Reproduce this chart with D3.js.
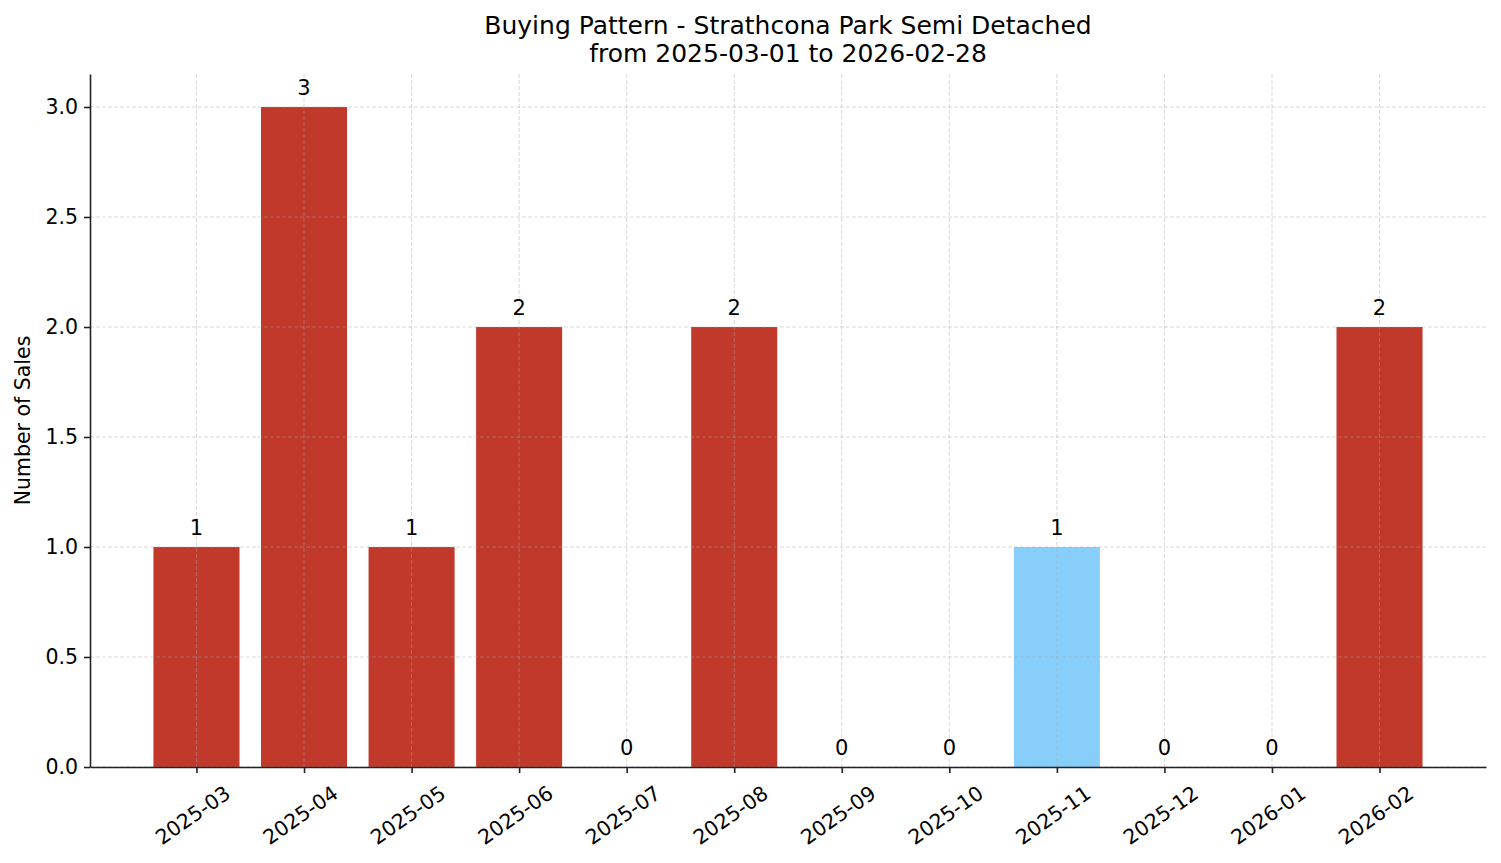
<!DOCTYPE html>
<html>
<head>
<meta charset="utf-8">
<script src="https://cdn.jsdelivr.net/npm/d3@7"></script>
<style>
  body { margin: 0; background: #fff; }
  text { font-family: "DejaVu Sans", sans-serif; fill: #000; }
</style>
</head>
<body>
<div id="chart"></div>
<script>
// months and sales counts
var months = ["2025-03", "2025-04", "2025-05", "2025-06", "2025-07", "2025-08",
              "2025-09", "2025-10", "2025-11", "2025-12", "2026-01", "2026-02"];
var sales = [1, 3, 1, 2, 0, 2, 0, 0, 1, 0, 0, 2];
var highlight = ["2025-11"];
var yTicks = [0, 0.5, 1.0, 1.5, 2.0, 2.5, 3.0];

var W = 1501, H = 863;
var margin = {top: 74, right: 15, bottom: 96, left: 90},
    width = W - margin.left - margin.right,
    height = H - margin.top - margin.bottom;

var svg = d3.select("#chart")
  .append("svg")
  .attr("width", W)
  .attr("height", H);

var g = svg.append("g")
  .attr("transform", "translate(" + margin.left + "," + margin.top + ")");

var x = d3.scaleLinear()
  .domain([-0.99, months.length - 0.01])
  .range([0, width]);

var y = d3.scaleLinear()
  .domain([0, 3.15])
  .range([height, 0]);

var barW = x(0.8) - x(0);

// bars
g.selectAll("rect.bar")
  .data(sales)
  .enter()
  .append("rect")
    .attr("class", "bar")
    .attr("x", function(d, i) { return x(i - 0.4); })
    .attr("y", function(d) { return y(d); })
    .attr("width", barW)
    .attr("height", function(d) { return height - y(d); })
    .style("fill", function(d, i) { return highlight.indexOf(months[i]) >= 0 ? "#87cefa" : "#c0392b"; });

// grid (drawn on top, like the original)
var grid = g.append("g").attr("class", "grid");
grid.selectAll("line.gy")
  .data(yTicks)
  .enter()
  .append("line")
    .attr("x1", 0).attr("x2", width)
    .attr("y1", function(d) { return y(d); })
    .attr("y2", function(d) { return y(d); });
grid.selectAll("line.gx")
  .data(months)
  .enter()
  .append("line")
    .attr("x1", function(d, i) { return x(i); })
    .attr("x2", function(d, i) { return x(i); })
    .attr("y1", 0).attr("y2", height);
grid.selectAll("line")
  .style("stroke", "#a8a8a8")
  .style("stroke-opacity", 0.55)
  .style("stroke-width", 0.8)
  .style("stroke-dasharray", "4,2");

// value labels
g.selectAll("text.val")
  .data(sales)
  .enter()
  .append("text")
    .attr("class", "val")
    .attr("x", function(d, i) { return x(i); })
    .attr("y", function(d) { return y(d) - 12; })
    .attr("text-anchor", "middle")
    .style("font-size", "21px")
    .text(function(d) { return d; });

// axes
var xAxis = g.append("g")
  .attr("transform", "translate(0," + height + ")")
  .call(d3.axisBottom(x)
    .tickValues(d3.range(months.length))
    .tickFormat(function(i) { return months[i]; })
    .tickSize(6)
    .tickSizeOuter(0));

xAxis.selectAll(".tick text")
  .style("font-size", "20.5px")
  .attr("text-anchor", "middle")
  .attr("y", 0)
  .attr("dy", 0)
  .attr("transform", "translate(0,54) rotate(-35)");

var yAxis = g.append("g")
  .call(d3.axisLeft(y)
    .tickValues(yTicks)
    .tickFormat(d3.format(".1f"))
    .tickSize(6)
    .tickSizeOuter(0));

yAxis.selectAll(".tick text")
  .style("font-size", "20.5px")
  .attr("x", -12);

g.selectAll(".domain").style("stroke", "#222").style("stroke-width", 1.6);
g.selectAll(".tick line").style("stroke", "#222").style("stroke-width", 1.6);
g.selectAll(".tick text").style("fill", "#000").style("font-family", "DejaVu Sans");

// axis label
svg.append("text")
  .attr("transform", "translate(30," + (margin.top + height / 2) + ") rotate(-90)")
  .attr("text-anchor", "middle")
  .style("font-size", "20.5px")
  .text("Number of Sales");

// title
var title = svg.append("text")
  .attr("x", margin.left + width / 2)
  .attr("text-anchor", "middle")
  .style("font-size", "25px");
title.append("tspan").attr("x", margin.left + width / 2).attr("y", 34)
  .text("Buying Pattern - Strathcona Park Semi Detached");
title.append("tspan").attr("x", margin.left + width / 2).attr("y", 62)
  .text("from 2025-03-01 to 2026-02-28");
</script>
</body>
</html>
